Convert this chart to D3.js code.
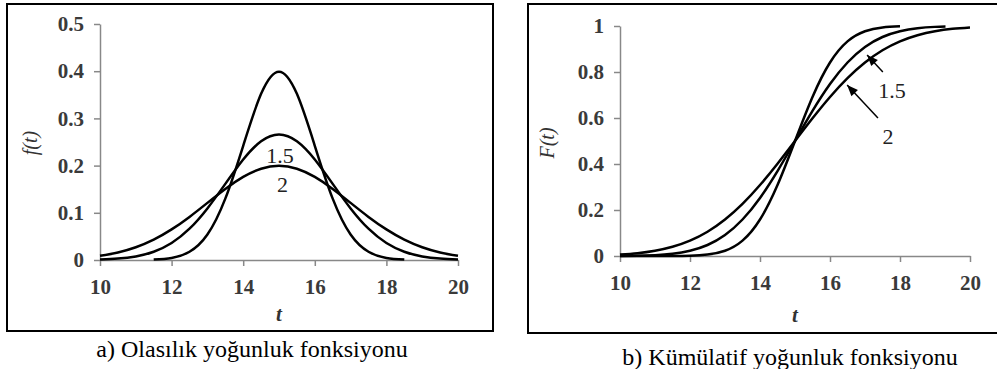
<!DOCTYPE html>
<html>
<head>
<meta charset="UTF-8">
<title>Normal dagilim</title>
<script src="https://d3js.org/d3.v7.min.js"></script>
<style>
  body { margin: 0; background: #fff; }
  .axis path, .axis line { stroke: #888; stroke-width: 1.5px; }
  .curve { fill: none; stroke: #000; stroke-width: 2.5px; }
</style>
</head>
<body>
<script>
// values (mean 15, sigma 1, 1.5, 2)
var sigmas = ["1", "1.5", "2"];

// a) density f(t)
var pdfT1 = [11.5, 12, 12.5, 13, 13.5, 14, 14.5, 15, 15.5, 16, 16.5, 17, 17.5, 18, 18.5];
var pdf1  = [0.0009, 0.0044, 0.0175, 0.054, 0.130, 0.242, 0.352, 0.399, 0.352, 0.242, 0.130, 0.054, 0.0175, 0.0044, 0.0009];
var pdfT2 = [10, 10.5, 11, 11.5, 12, 12.5, 13, 13.5, 14, 14.5, 15, 15.5, 16, 16.5, 17, 17.5, 18, 18.5, 19, 19.5, 20];
var pdf15 = [0.0010, 0.0030, 0.0076, 0.0175, 0.036, 0.0663, 0.1093, 0.1613, 0.213, 0.2516, 0.266, 0.2516, 0.213, 0.1613, 0.1093, 0.0663, 0.036, 0.0175, 0.0076, 0.0030, 0.0010];
var pdf2  = [0.0088, 0.0159, 0.027, 0.0431, 0.0648, 0.0913, 0.121, 0.1506, 0.176, 0.1933, 0.1995, 0.1933, 0.176, 0.1506, 0.121, 0.0913, 0.0648, 0.0431, 0.027, 0.0159, 0.0088];

// b) cumulative F(t)
var cdfT1 = [10, 10.5, 11, 11.5, 12, 12.5, 13, 13.5, 14, 14.5, 15, 15.5, 16, 16.5, 17, 17.5, 18];
var cdf1  = [0, 0, 0.00003, 0.0002, 0.0013, 0.0062, 0.0228, 0.0668, 0.1587, 0.3085, 0.5, 0.6915, 0.8413, 0.9332, 0.9772, 0.9938, 0.9987];
var cdfT15 = [10, 10.5, 11, 11.5, 12, 12.5, 13, 13.5, 14, 14.5, 15, 15.5, 16, 16.5, 17, 17.5, 18, 18.5, 19, 19.3];
var cdf15 = [0.0004, 0.0013, 0.0038, 0.0098, 0.0228, 0.0478, 0.0912, 0.1587, 0.2525, 0.3694, 0.5, 0.6306, 0.7475, 0.8413, 0.9088, 0.9522, 0.9772, 0.9902, 0.9962, 0.9979];
var cdfT2 = [10, 10.5, 11, 11.5, 12, 12.5, 13, 13.5, 14, 14.5, 15, 15.5, 16, 16.5, 17, 17.5, 18, 18.5, 19, 19.5, 20];
var cdf2  = [0.0062, 0.0122, 0.0228, 0.0401, 0.0668, 0.1056, 0.1587, 0.2266, 0.3085, 0.4013, 0.5, 0.5987, 0.6915, 0.7734, 0.8413, 0.8944, 0.9332, 0.9599, 0.9772, 0.9878, 0.9938];

var xTicks = [10, 12, 14, 16, 18, 20];
var pdfTicks = [0, 0.1, 0.2, 0.3, 0.4, 0.5];
var cdfTicks = [0, 0.2, 0.4, 0.6, 0.8, 1];

var captions = ["a) Olasılık yoğunluk fonksiyonu", "b) Kümülatif yoğunluk fonksiyonu"];

var W = 997, H = 369;
var SERIF = "'Liberation Serif'";
var svg = d3.select("body").append("svg").attr("width", W).attr("height", H);

function zip(ts, vs) { return ts.map(function(t, i) { return [t, vs[i]]; }); }

function panel(o) {
  var g = svg.append("g");
  g.append("rect")
    .attr("x", o.box[0]).attr("y", o.box[1]).attr("width", o.box[2]).attr("height", o.box[3])
    .attr("fill", "none").attr("stroke", "#000").attr("stroke-width", 2);

  var x = d3.scaleLinear().domain([10, 20]).range(o.xr);
  var y = d3.scaleLinear().domain(o.yd).range(o.yr);

  var xa = g.append("g").attr("class", "axis")
    .attr("transform", "translate(0," + o.yr[0] + ")")
    .call(d3.axisBottom(x).tickValues(xTicks).tickSize(6).tickSizeOuter(0).tickPadding(13));

  var ya = g.append("g").attr("class", "axis")
    .attr("transform", "translate(" + o.xr[0] + ",0)")
    .call(d3.axisLeft(y).tickValues(o.yt).tickSize(6).tickSizeOuter(0).tickPadding(10)
      .tickFormat(function(d) { return d === 0 ? "0" : String(d); }));

  [xa, ya].forEach(function(a) {
    a.attr("font-family", null);
    a.selectAll("text")
      .style("font-family", SERIF).style("font-size", "21px")
      .style("font-weight", "bold").attr("fill", "#3a3a3a");
  });

  var line = d3.line().x(function(d) { return x(d[0]); }).y(function(d) { return y(d[1]); })
    .curve(d3.curveNatural);
  o.series.forEach(function(s) {
    g.append("path").attr("class", "curve").attr("d", line(s));
  });

  g.append("text")
    .attr("transform", "translate(" + o.ylab[0] + "," + o.ylab[1] + ") rotate(-90)")
    .attr("text-anchor", "middle").attr("dominant-baseline", "central")
    .style("font-family", SERIF).style("font-size", "20px").style("font-style", "italic")
    .attr("fill", "#333")
    .text(o.ytitle);
  g.append("text")
    .attr("x", (o.xr[0] + o.xr[1]) / 2).attr("y", o.xlabY)
    .attr("text-anchor", "middle").attr("dominant-baseline", "central")
    .style("font-family", SERIF).style("font-size", "21px").style("font-style", "italic")
    .style("font-weight", "bold").attr("fill", "#333")
    .text("t");

  o.notes.forEach(function(n) {
    g.append("text")
      .attr("x", x(n.t)).attr("y", y(n.v))
      .attr("text-anchor", "middle").attr("dominant-baseline", "central")
      .style("font-family", SERIF).style("font-size", "22px").attr("fill", "#222")
      .text(n.label);
    if (n.arrow) {
      var x0 = x(n.arrow[0]), y0 = y(n.arrow[1]), x1 = x(n.arrow[2]), y1 = y(n.arrow[3]);
      g.append("line").attr("x1", x0).attr("y1", y0).attr("x2", x1).attr("y2", y1)
        .attr("stroke", "#000").attr("stroke-width", 1.5);
      var ang = Math.atan2(y1 - y0, x1 - x0), L = 11, w = 4.5;
      var bx = x1 - L * Math.cos(ang), by = y1 - L * Math.sin(ang);
      g.append("path")
        .attr("d", "M" + x1 + "," + y1 +
          "L" + (bx + w * Math.sin(ang)) + "," + (by - w * Math.cos(ang)) +
          "L" + (bx - w * Math.sin(ang)) + "," + (by + w * Math.cos(ang)) + "Z")
        .attr("fill", "#000");
    }
  });

  g.append("text")
    .attr("x", o.cap[0]).attr("y", o.cap[1])
    .attr("text-anchor", "middle").attr("dominant-baseline", "central")
    .style("font-family", SERIF).style("font-size", "24px").attr("fill", "#000")
    .text(o.caption);
}

panel({
  box: [7, 4, 486, 327], xr: [100, 458], yd: [0, 0.5], yr: [260, 24], yt: pdfTicks,
  series: [zip(pdfT1, pdf1), zip(pdfT2, pdf15), zip(pdfT2, pdf2)],
  ytitle: "f(t)", ylab: [30, 143], xlabY: 314,
  notes: [{ label: sigmas[1], t: 15.03, v: 0.222 }, { label: sigmas[2], t: 15.1, v: 0.159 }],
  cap: [252, 349], caption: captions[0]
});

panel({
  box: [528, 4, 475, 329], xr: [620, 970], yd: [0, 1], yr: [256, 26], yt: cdfTicks,
  series: [zip(cdfT1, cdf1), zip(cdfT15, cdf15), zip(cdfT2, cdf2)],
  ytitle: "F(t)", ylab: [547, 143], xlabY: 315,
  notes: [
    { label: sigmas[1], t: 17.77, v: 0.72, arrow: [17.51, 0.80, 17.06, 0.874] },
    { label: sigmas[2], t: 17.66, v: 0.52, arrow: [17.37, 0.60, 16.49, 0.743] }
  ],
  cap: [790, 357], caption: captions[1]
});
</script>
</body>
</html>
